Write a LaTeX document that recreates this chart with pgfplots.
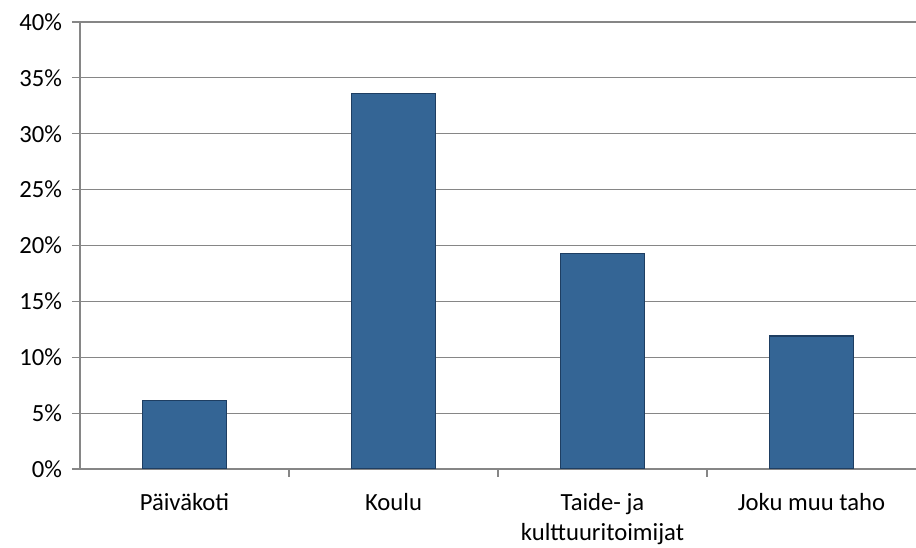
\documentclass[border=0pt]{standalone}
\usepackage{pgfplots}
\pgfplotsset{compat=1.18}
\usepackage{fontspec}
\setmainfont{Carlito}
\definecolor{barblue}{RGB}{52,101,149}
\definecolor{baredge}{RGB}{30,62,98}
\definecolor{gridgray}{RGB}{134,134,134}
\begin{document}
\begin{tikzpicture}[x=1pt,y=1pt]
\useasboundingbox (-60,-59.25) rectangle (627,351.75);
\begin{axis}[
  at={(0,0)}, anchor=south west,
  scale only axis, width=627pt, height=335.25pt,
  xmin=-0.5, xmax=3.5, ymin=0, ymax=40,
  axis x line*=bottom, axis y line*=left,
  axis line style={gridgray, line width=0.9pt},
  xtick={0,1,2,3},
  xticklabels={Päiväkoti, Koulu, {Taide- ja\\kulttuuritoimijat}, Joku muu taho},
  xticklabel style={align=center, text=black, yshift=-9pt},
  minor xtick={0.5,1.5,2.5},
  ytick={0,5,...,40},
  yticklabel={\pgfmathprintnumber{\tick}\%},
  /pgf/number format/assume math mode=true,
  ymajorgrids, grid style={gridgray, line width=0.9pt},
  tick align=outside,
  major x tick style={draw=none},
  major y tick style={gridgray, line width=0.9pt},
  minor tick style={gridgray, line width=0.9pt},
  major tick length=6pt, minor tick length=6pt,
  ticklabel style={font=\fontsize{18.5}{22.5}\selectfont},
  yticklabel style={xshift=-4pt},
  ybar, bar width=0.4,
]
\addplot[fill=barblue, draw=baredge, line width=0.9pt] coordinates {
  (0,6.15) (1,33.6) (2,19.3) (3,11.9)};
\end{axis}
\end{tikzpicture}
\end{document}
